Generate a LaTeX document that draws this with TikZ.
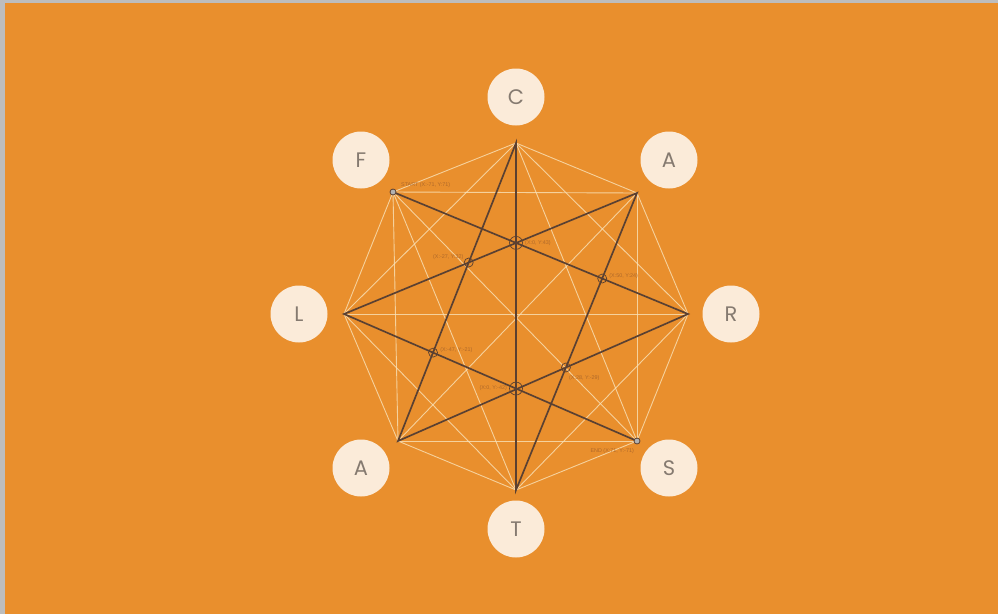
\documentclass[tikz,border=0pt]{standalone}
\usepackage{fontspec}
\setmainfont{Poppins}
\setsansfont{Liberation Sans}
\definecolor{bgorange}{HTML}{E98F2D}
\definecolor{frame}{HTML}{BDBDBD}
\definecolor{cream}{HTML}{FBEBD9}
\definecolor{lightline}{HTML}{F9E2B8}
\definecolor{darkline}{HTML}{5B4030}
\definecolor{lettergrey}{HTML}{857A70}
\definecolor{labelcol}{HTML}{A5622A}
\tikzset{
  chord/.style={draw=lightline, line width=0.9pt, opacity=0.8},
  pathseg/.style={draw=darkline, line width=1.7pt, line cap=round},
  letterdisc/.style={circle, fill=cream, minimum size=57pt, inner sep=0pt,
    text=lettergrey, font=\fontsize{21}{21}\selectfont},
  markone/.style={draw=darkline, line width=0.7pt, circle, minimum size=9pt, inner sep=0pt},
  marktwo/.style={draw=darkline, line width=0.7pt, circle, minimum size=13pt, inner sep=0pt},
  endmark/.style={draw=darkline, fill=gray!60, line width=0.8pt, circle, minimum size=6pt, inner sep=0pt},
  coordlabel/.style={text=labelcol, font=\sffamily\fontsize{5.4}{6}\selectfont, inner sep=0pt, opacity=0.85}
}
\begin{document}
\begin{tikzpicture}[x=1pt,y=-1pt]
\useasboundingbox (0,0) rectangle (998,614);
\fill[frame] (0,0) rectangle (998,614);
\fill[bgorange] (5,3) rectangle (998,614);
% octagon vertices
\coordinate (v0) at (516,143);
\coordinate (v1) at (637,193);
\coordinate (v2) at (688,314);
\coordinate (v3) at (637,441);
\coordinate (v4) at (516,490);
\coordinate (v5) at (398,441);
\coordinate (v6) at (344,314);
\coordinate (v7) at (393,192);
% all chords (light)
\foreach \i in {0,...,6}{
  \pgfmathtruncatemacro{\k}{\i+1}
  \foreach \j in {\k,...,7}{
    \draw[chord] (v\i) -- (v\j);
  }
}
% dark path START F -> R -> A -> C -> T -> A -> L -> S END
\draw[pathseg] (v7) -- (v2) -- (v5) -- (v0) -- (v4) -- (v1) -- (v6) -- (v3);
% intersections
\coordinate (p1) at (intersection of v7--v2 and v0--v4);
\coordinate (p2) at (intersection of v6--v1 and v0--v5);
\coordinate (p3) at (intersection of v7--v2 and v1--v4);
\coordinate (p4) at (intersection of v6--v3 and v0--v5);
\coordinate (p5) at (intersection of v6--v3 and v0--v4);
\coordinate (p6) at (intersection of v5--v2 and v1--v4);
\node[marktwo] (m1) at (p1) {};
\node[markone] (m2) at (p2) {};
\node[markone] (m3) at (p3) {};
\node[markone] (m4) at (p4) {};
\node[marktwo] (m5) at (p5) {};
\node[markone] (m6) at (p6) {};
\node[endmark] (ms) at (v7) {};
\node[endmark] (me) at (v3) {};
% coordinate labels (yshift positive = upward on the page)
\node[coordlabel, anchor=west] (l0) at ([xshift=8pt,yshift=7pt]v7) {START (X:-71, Y:71)};
\node[coordlabel, anchor=west] (l1) at ([xshift=9pt,yshift=0pt]p1) {(X:0, Y:43)};
\node[coordlabel, anchor=east] (l2) at ([xshift=-5pt,yshift=5pt]p2) {(X:-27, Y:32)};
\node[coordlabel, anchor=west] (l3) at ([xshift=7pt,yshift=2pt]p3) {(X:50, Y:24)};
\node[coordlabel, anchor=west] (l4) at ([xshift=7pt,yshift=3pt]p4) {(X:-47, Y:-21)};
\node[coordlabel, anchor=east] (l5) at ([xshift=-9pt,yshift=0pt]p5) {(X:0, Y:-42)};
\node[coordlabel, anchor=west] (l6) at ([xshift=3pt,yshift=-11pt]p6) {(X:28, Y:-29)};
\node[coordlabel, anchor=east] (l7) at ([xshift=-3pt,yshift=-10pt]v3) {END (X:71, Y:-71)};
% letter discs
\node[letterdisc] (cC) at (516,97) {C};
\node[letterdisc] (cA1) at (669,160) {A};
\node[letterdisc] (cR) at (731,314) {R};
\node[letterdisc] (cS) at (669,468) {S};
\node[letterdisc] (cT) at (516,529) {T};
\node[letterdisc] (cA2) at (361,468) {A};
\node[letterdisc] (cL) at (299,314) {L};
\node[letterdisc] (cF) at (361,160) {F};
\end{tikzpicture}
\end{document}
